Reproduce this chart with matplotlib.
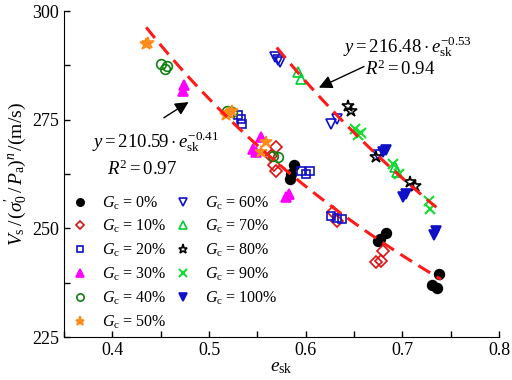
import matplotlib
matplotlib.use("Agg")
import matplotlib.pyplot as plt
import numpy as np

plt.rcParams["font.family"] = ["Liberation Serif", "DejaVu Serif"]
plt.rcParams["mathtext.fontset"] = "custom"
plt.rcParams["mathtext.rm"] = "Liberation Serif"
plt.rcParams["mathtext.it"] = "Liberation Serif:italic"
plt.rcParams["mathtext.bf"] = "Liberation Serif:bold"

# data (e_sk, normalised Vs)
gc_labels = ["0%", "10%", "20%", "30%", "40%", "50%", "60%", "70%", "80%", "90%", "100%"]
gc0_x = [0.588, 0.585, 0.584, 0.683, 0.677, 0.675, 0.738, 0.731, 0.736]
gc0_y = [264.6, 262.6, 261.4, 249.0, 247.6, 247.2, 239.4, 236.9, 236.3]
gc10_x = [0.569, 0.564, 0.567, 0.569, 0.628, 0.632, 0.680, 0.673, 0.678]
gc10_y = [268.7, 266.6, 264.5, 263.3, 253.8, 251.8, 244.9, 242.3, 242.6]
gc20_x = [0.530, 0.533, 0.534, 0.595, 0.604, 0.600, 0.626, 0.637, 0.632]
gc20_y = [276.0, 275.2, 273.9, 263.3, 263.2, 262.6, 252.8, 252.2, 252.5]
gc30_x = [0.474, 0.473, 0.554, 0.545, 0.549, 0.583, 0.580]
gc30_y = [282.9, 281.7, 271.0, 268.3, 267.6, 258.0, 257.2]
gc40_x = [0.450, 0.454, 0.457, 0.519, 0.524, 0.566, 0.571]
gc40_y = [287.9, 286.7, 287.3, 277.1, 276.8, 266.6, 266.4]
gc50_x = [0.435, 0.437, 0.521, 0.518, 0.524, 0.559, 0.554]
gc50_y = [292.3, 292.6, 276.5, 276.0, 277.1, 269.9, 267.6]
gc60_x = [0.568, 0.573, 0.571, 0.626, 0.632, 0.675]
gc60_y = [289.4, 288.3, 288.8, 274.1, 275.2, 266.8]
gc70_x = [0.592, 0.595, 0.692, 0.694]
gc70_y = [286.0, 284.4, 264.1, 263.0]
gc80_x = [0.644, 0.647, 0.673, 0.708, 0.713]
gc80_y = [278.1, 277.1, 266.4, 260.7, 259.7]
gc90_x = [0.651, 0.654, 0.657, 0.690, 0.696, 0.727, 0.728]
gc90_y = [272.9, 271.4, 272.0, 264.9, 262.6, 256.4, 254.5]
gc100_x = [0.680, 0.683, 0.701, 0.704, 0.735, 0.733]
gc100_y = [267.6, 268.0, 257.2, 258.0, 249.5, 248.4]

fit1_a, fit1_b, fit1_range = 210.59, -0.41, (0.435, 0.74)
fit2_a, fit2_b, fit2_range = 216.48, -0.53, (0.57, 0.735)

blue = "#1010c8"
series = [
    (gc0_x, gc0_y, dict(marker="o", color="black", mfc="black")),
    (gc10_x, gc10_y, dict(marker="D", color="#e01010", mfc="none", ms=6)),
    (gc20_x, gc20_y, dict(marker="s", color=blue, mfc="none", ms=6)),
    (gc30_x, gc30_y, dict(marker="^", color="#ff00ff", mfc="#ff00ff")),
    (gc40_x, gc40_y, dict(marker="o", color="#108010", mfc="none")),
    (gc50_x, gc50_y, dict(marker="*", color="#ff8c1a", mfc="#ff8c1a", ms=9)),
    (gc60_x, gc60_y, dict(marker="v", color=blue, mfc="none")),
    (gc70_x, gc70_y, dict(marker="^", color="#00cc33", mfc="none")),
    (gc80_x, gc80_y, dict(marker="*", color="black", mfc="none", ms=9)),
    (gc90_x, gc90_y, dict(marker="x", color="#10dd30", mew=1.5)),
    (gc100_x, gc100_y, dict(marker="v", color=blue, mfc=blue)),
]

fig = plt.figure(figsize=(5.12, 3.8), dpi=100)
ax = fig.add_axes([0.125, 0.113, 0.85, 0.858])

for (xs, ys, st), lab in zip(series, gc_labels):
    kw = dict(ms=7, mew=1.2, ls="none")
    kw.update(st)
    ax.plot(xs, ys, label=r"$G_\mathrm{c}$ = " + lab, **kw)

for a, b, (lo, hi) in [(fit1_a, fit1_b, fit1_range), (fit2_a, fit2_b, fit2_range)]:
    xx = np.linspace(lo, hi, 100)
    ax.plot(xx, a * xx ** b, color="#ff1a1a", ls=(0, (4.5, 2.5)), lw=2.2, zorder=5)

ax.set_xlim(0.35, 0.8)
ax.set_ylim(225, 300)
ax.set_xticks([0.4, 0.5, 0.6, 0.7, 0.8])
ax.set_xticks(np.arange(0.35, 0.801, 0.05), minor=True)
ax.set_yticks([225, 250, 275, 300])
ax.set_yticks(np.arange(225, 300.1, 12.5), minor=True)
ax.tick_params(which="both", direction="in", length=4, labelsize=13, width=1)
ax.spines["top"].set_visible(False)
ax.spines["right"].set_visible(False)

ax.set_xlabel(r"$e_\mathrm{sk}$", fontsize=14, labelpad=0)
ax.set_ylabel(r"$V_\mathrm{s}\,/\,(\sigma_0^{\prime}\,/\,P_\mathrm{a})^{n}\,/(\mathrm{m/s})$",
              fontsize=14, labelpad=2)

ax.text(0.379, 269.9, r"$y = 210.59\cdot e_\mathrm{sk}^{-0.41}$", ha="left", va="center", fontsize=13.5)
ax.text(0.394, 263.7, r"$R^2 = 0.97$", ha="left", va="center", fontsize=13.5)
ax.text(0.639, 291.7, r"$y = 216.48\cdot e_\mathrm{sk}^{-0.53}$", ha="left", va="center", fontsize=13.5)
ax.text(0.6615, 286.7, r"$R^2 = 0.94$", ha="left", va="center", fontsize=13.5)

arrow = dict(arrowstyle="-|>,head_length=0.8,head_width=0.4", color="black", lw=1)
ax.annotate("", xy=(0.4812, 279.4), xytext=(0.4508, 275.1), arrowprops=arrow)
ax.annotate("", xy=(0.6109, 282.1), xytext=(0.6628, 287.5), arrowprops=arrow)

ax.legend(loc="lower left", bbox_to_anchor=(0.018, 0.02), ncol=2, frameon=False,
          fontsize=11.5, borderpad=0, borderaxespad=0, markerscale=0.75,
          handlelength=1.0, handletextpad=0.9, columnspacing=0.5, labelspacing=0.4)

fig.savefig("out.png", dpi=100)
